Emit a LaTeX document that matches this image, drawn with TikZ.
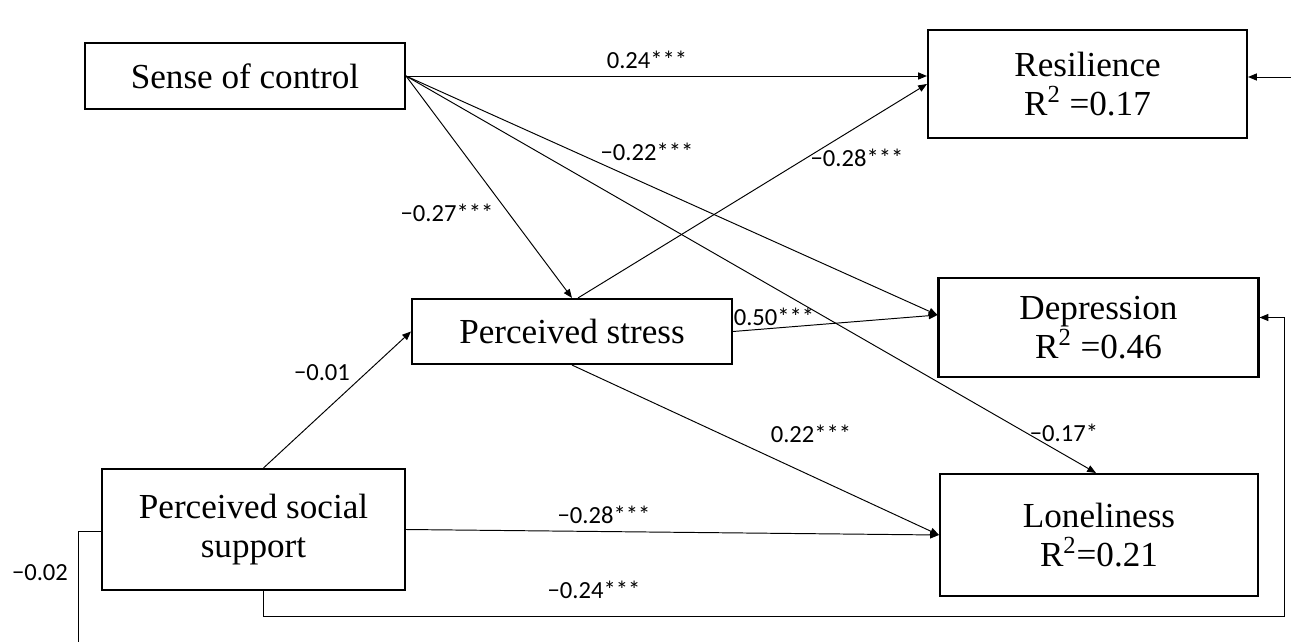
\documentclass[tikz,border=0pt]{standalone}
\usepackage{fontspec}
\setmainfont{Liberation Serif}
\newfontfamily\coeffont{Carlito}
\usetikzlibrary{arrows.meta}
\tikzset{
	box/.style={draw,line width=1.2pt,align=center,inner sep=0pt,font=\fontsize{20}{22.5}\selectfont},
	lnk/.style={line width=0.55pt,-{Triangle[length=5pt,width=4pt]}},
	coef/.style={inner sep=0pt,font=\coeffont\fontsize{14}{16}\selectfont}
}
\begin{document}
\begin{tikzpicture}[x=0.02cm,y=-0.02cm]
		\useasboundingbox (0,0) rectangle (1291,642);
		% variables
		\node[box,minimum width=6.4cm,minimum height=1.32cm] (soc) at (245,76) {Sense of control};
		\node[box,minimum width=6.38cm,minimum height=2.16cm] (res) at (1087.5,84) {Resilience\\R\textsuperscript{2} =0.17};
		\node[box,minimum width=6.4cm,minimum height=1.3cm] (ps) at (572,331.5) {Perceived stress};
		\node[box,minimum width=6.4cm,minimum height=1.98cm] (dep) at (1098.5,327.5) {Depression\\R\textsuperscript{2} =0.46};
		\node[box,minimum width=6.06cm,minimum height=2.42cm] (pss) at (253.5,529.5) {Perceived social\\support};
		\node[box,minimum width=6.36cm,minimum height=2.44cm] (lon) at (1099,535) {Loneliness\\R\textsuperscript{2}=0.21};
		\coordinate (cutR) at (1291,77);
		\coordinate (cutL) at (78,642);
		\coordinate (loopR) at (1284,616);
		% paths
		\draw[lnk] (soc.east)--(soc.east -| res.west);
		\draw[lnk] (soc.east)--([yshift=0.25cm]dep.west);
		\draw[lnk] (soc.east)--([xshift=-0.06cm]lon.north);
		\draw[lnk] (soc.east)--(ps.north);
		\draw[lnk] ([xshift=0.12cm]ps.north)--(res.west);
		\draw[lnk] (ps.east)--([yshift=0.25cm]dep.west);
		\draw[lnk] (ps.south)--(lon.west);
		\draw[lnk] ([xshift=0.2cm]pss.north)--(ps.west);
		\draw[lnk] (pss.east)--(lon.west);
		\draw[lnk] ([xshift=0.19cm]pss.south) |- (loopR) |- ([yshift=0.2cm]dep.east);
		\draw[line width=0.55pt] ([yshift=-0.03cm]pss.west) -| (cutL);
		\draw[lnk] (cutR)--(cutR -| res.east);
		% coefficients
		\node[coef] (c1) at (647,60) {0.24***};
		\node[coef] (c2) at (647,152) {−0.22***};
		\node[coef] (c3) at (857,158) {−0.28***};
		\node[coef] (c4) at (447,213) {−0.27***};
		\node[coef] (c5) at (774,317) {0.50***};
		\node[coef] (c6) at (322,373) {−0.01};
		\node[coef] (c7) at (811,434) {0.22***};
		\node[coef] (c8) at (1064,433) {−0.17*};
		\node[coef] (c9) at (604,515) {−0.28***};
		\node[coef] (c10) at (594,590) {−0.24***};
		\node[coef] (c11) at (40,573) {−0.02};
	\end{tikzpicture}
\end{document}
